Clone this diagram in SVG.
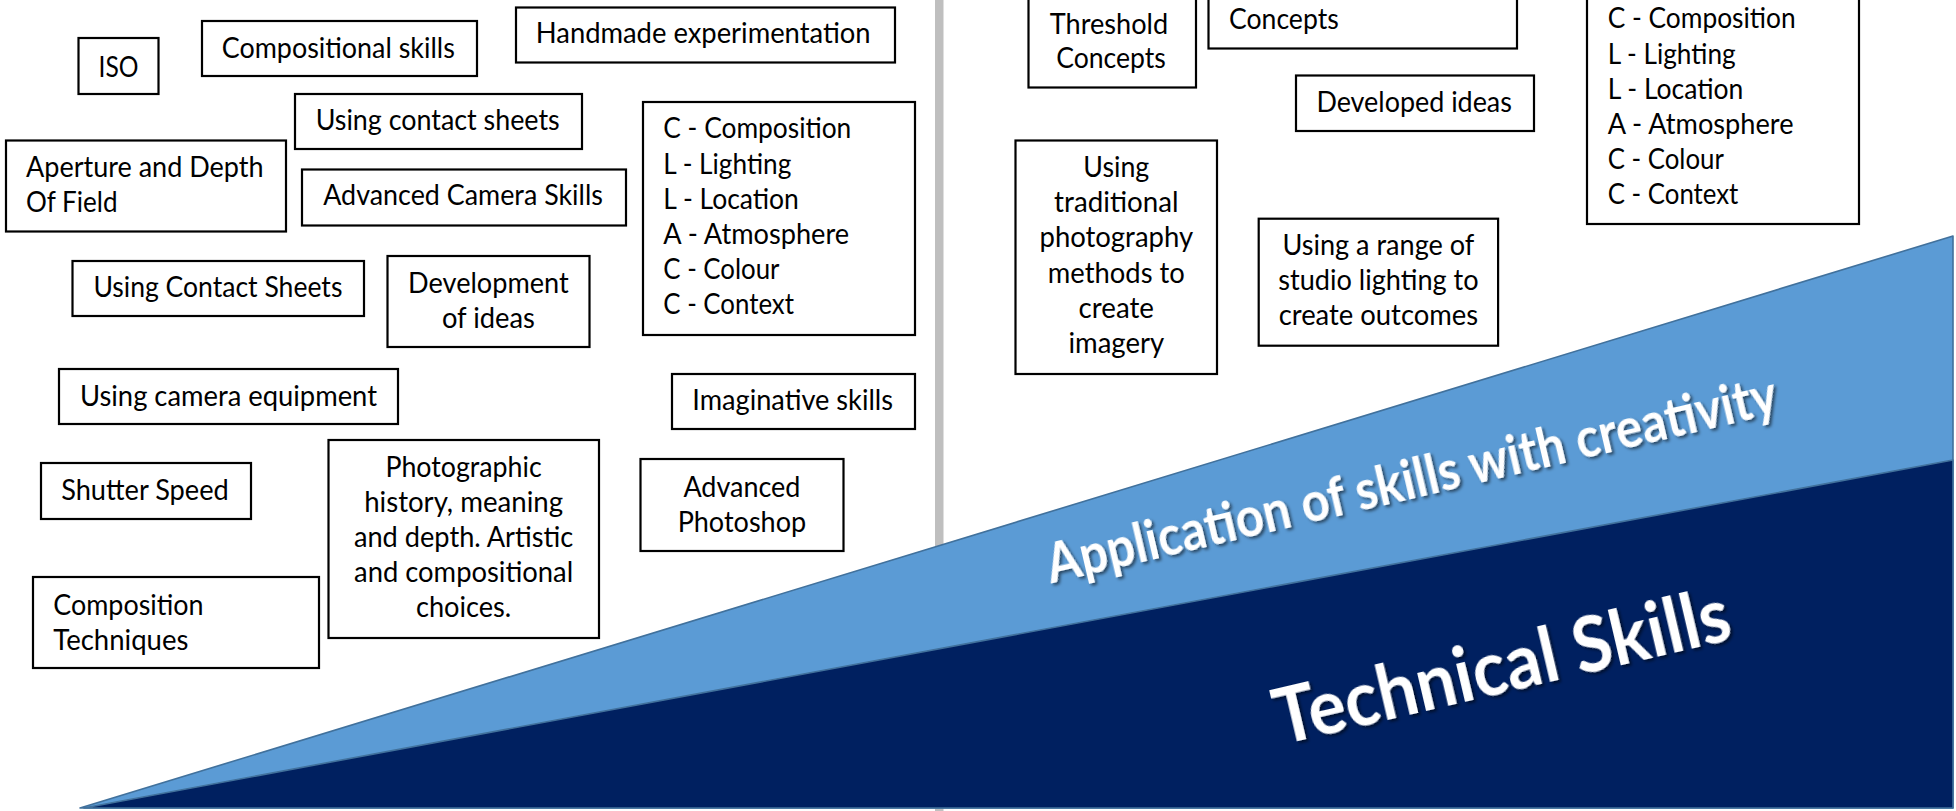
<svg xmlns="http://www.w3.org/2000/svg" width="1956" height="811" viewBox="0 0 1956 811">
<style>
.box{fill:#fff;stroke:#000;stroke-width:2.2}
.t{font-family:Lato,"Liberation Sans",sans-serif;font-size:28.5px;fill:#000}
.m{text-anchor:middle}
.w{font-family:Lato,"Liberation Sans",sans-serif;font-weight:bold;fill:#fff}
.band{stroke:#41719C;stroke-width:1.6;stroke-linejoin:round}
</style>
<defs>
<filter id="sh" x="-10%" y="-30%" width="120%" height="160%">
<feDropShadow dx="2" dy="2.5" stdDeviation="1.6" flood-color="#000" flood-opacity="0.55"/>
</filter>
</defs>
<rect id="divider" x="935" y="0" width="8.5" height="811" fill="#bfbfbf"/>

<g id="iso"><rect class="box" x="78.5" y="38" width="80" height="56"/><text class="t m" x="118.5" y="76.7" textLength="40" lengthAdjust="spacingAndGlyphs">ISO</text></g>
<g id="compositional"><rect class="box" x="202" y="21" width="275" height="55"/><text class="t" x="221.8" y="58.3" textLength="233" lengthAdjust="spacingAndGlyphs">Compositional skills</text></g>
<g id="handmade"><rect class="box" x="516" y="7.5" width="379" height="55"/><text class="t" x="535.8" y="43.3" textLength="334.8" lengthAdjust="spacingAndGlyphs">Handmade experimentation</text></g>
<g id="contact1"><rect class="box" x="295" y="94" width="287" height="55"/><text class="t" x="315.7" y="130" textLength="244" lengthAdjust="spacingAndGlyphs">Using contact sheets</text></g>
<g id="aperture"><rect class="box" x="6" y="140.5" width="280" height="91"/><text class="t" x="26" y="176.7" textLength="237.6" lengthAdjust="spacingAndGlyphs">Aperture and Depth</text><text class="t" x="26" y="211.7" textLength="91.5" lengthAdjust="spacingAndGlyphs">Of Field</text></g>
<g id="advcamera"><rect class="box" x="302" y="169.5" width="324" height="56"/><text class="t" x="323.2" y="205" textLength="279.7" lengthAdjust="spacingAndGlyphs">Advanced Camera Skills</text></g>
<g id="clacc-left"><rect class="box" x="643" y="102" width="272" height="233"/>
<text class="t" x="663.3" y="138.3" textLength="188" lengthAdjust="spacingAndGlyphs">C - Composition</text>
<text class="t" x="663.3" y="173.5" textLength="128" lengthAdjust="spacingAndGlyphs">L - Lighting</text>
<text class="t" x="663.3" y="208.7" textLength="135.6" lengthAdjust="spacingAndGlyphs">L - Location</text>
<text class="t" x="663.3" y="243.9" textLength="185.8" lengthAdjust="spacingAndGlyphs">A - Atmosphere</text>
<text class="t" x="663.3" y="279.1" textLength="116.2" lengthAdjust="spacingAndGlyphs">C - Colour</text>
<text class="t" x="663.3" y="314.3" textLength="130.7" lengthAdjust="spacingAndGlyphs">C - Context</text></g>
<g id="contact2"><rect class="box" x="72.5" y="261" width="291.5" height="55"/><text class="t" x="93.4" y="296.7" textLength="249" lengthAdjust="spacingAndGlyphs">Using Contact Sheets</text></g>
<g id="development"><rect class="box" x="387.5" y="256" width="202" height="91"/><text class="t m" x="488.4" y="293.3" textLength="160.6" lengthAdjust="spacingAndGlyphs">Development</text><text class="t m" x="488.4" y="328.3" textLength="92.9" lengthAdjust="spacingAndGlyphs">of ideas</text></g>
<g id="cameraequip"><rect class="box" x="59" y="369" width="339" height="55"/><text class="t" x="80" y="406" textLength="297" lengthAdjust="spacingAndGlyphs">Using camera equipment</text></g>
<g id="imaginative"><rect class="box" x="672" y="374" width="243" height="55"/><text class="t" x="692.3" y="410" textLength="200.7" lengthAdjust="spacingAndGlyphs">Imaginative skills</text></g>
<g id="shutter"><rect class="box" x="41" y="463" width="210" height="56"/><text class="t" x="61.2" y="500" textLength="167.6" lengthAdjust="spacingAndGlyphs">Shutter Speed</text></g>
<g id="photographic"><rect class="box" x="328.5" y="440" width="270.5" height="198"/>
<text class="t m" x="463.6" y="477.3" textLength="156.3" lengthAdjust="spacingAndGlyphs">Photographic</text>
<text class="t m" x="463.6" y="512.2" textLength="198.9" lengthAdjust="spacingAndGlyphs">history, meaning</text>
<text class="t m" x="463.6" y="547" textLength="219.3" lengthAdjust="spacingAndGlyphs">and depth. Artistic</text>
<text class="t m" x="463.6" y="581.9" textLength="219" lengthAdjust="spacingAndGlyphs">and compositional</text>
<text class="t m" x="463.6" y="616.7" textLength="95.4" lengthAdjust="spacingAndGlyphs">choices.</text></g>
<g id="photoshop"><rect class="box" x="640.5" y="459" width="203" height="92"/><text class="t m" x="741.9" y="496.7" textLength="117" lengthAdjust="spacingAndGlyphs">Advanced</text><text class="t m" x="741.9" y="531.7" textLength="128.5" lengthAdjust="spacingAndGlyphs">Photoshop</text></g>
<g id="comptech"><rect class="box" x="33" y="577" width="286" height="91"/><text class="t" x="53.3" y="615" textLength="150.3" lengthAdjust="spacingAndGlyphs">Composition</text><text class="t" x="53.3" y="649.7" textLength="135.1" lengthAdjust="spacingAndGlyphs">Techniques</text></g>

<g id="threshold"><rect class="box" x="1028.5" y="-10" width="167.5" height="97.5"/><text class="t m" x="1109" y="34.3" textLength="118.4" lengthAdjust="spacingAndGlyphs">Threshold</text><text class="t m" x="1111" y="68.3" textLength="109.7" lengthAdjust="spacingAndGlyphs">Concepts</text></g>
<g id="concepts"><rect class="box" x="1208.5" y="-10" width="308.5" height="58.5"/><text class="t" x="1229" y="28.5" textLength="109.7" lengthAdjust="spacingAndGlyphs">Concepts</text></g>
<g id="developed"><rect class="box" x="1296" y="75.5" width="238" height="55.5"/><text class="t" x="1316.4" y="111.7" textLength="195.5" lengthAdjust="spacingAndGlyphs">Developed ideas</text></g>
<g id="traditional"><rect class="box" x="1015.5" y="140.5" width="201.5" height="233.5"/>
<text class="t m" x="1116.3" y="176.9" textLength="65.9" lengthAdjust="spacingAndGlyphs">Using</text>
<text class="t m" x="1116.3" y="212.1" textLength="124.4" lengthAdjust="spacingAndGlyphs">traditional</text>
<text class="t m" x="1116.3" y="247.3" textLength="153.6" lengthAdjust="spacingAndGlyphs">photography</text>
<text class="t m" x="1116.3" y="282.5" textLength="136.9" lengthAdjust="spacingAndGlyphs">methods to</text>
<text class="t m" x="1116.3" y="317.7" textLength="75.4" lengthAdjust="spacingAndGlyphs">create</text>
<text class="t m" x="1116.3" y="352.9" textLength="95.7" lengthAdjust="spacingAndGlyphs">imagery</text></g>
<g id="studio"><rect class="box" x="1258.7" y="218.7" width="239.4" height="127"/>
<text class="t m" x="1378.4" y="255" textLength="191.8" lengthAdjust="spacingAndGlyphs">Using a range of</text>
<text class="t m" x="1378.4" y="290" textLength="200.3" lengthAdjust="spacingAndGlyphs">studio lighting to</text>
<text class="t m" x="1378.4" y="325" textLength="199.5" lengthAdjust="spacingAndGlyphs">create outcomes</text></g>
<g id="clacc-right"><rect class="box" x="1587" y="-10" width="272" height="234"/>
<text class="t" x="1607.7" y="28.3" textLength="188" lengthAdjust="spacingAndGlyphs">C - Composition</text>
<text class="t" x="1607.7" y="63.5" textLength="128" lengthAdjust="spacingAndGlyphs">L - Lighting</text>
<text class="t" x="1607.7" y="98.6" textLength="135.6" lengthAdjust="spacingAndGlyphs">L - Location</text>
<text class="t" x="1607.7" y="133.8" textLength="185.8" lengthAdjust="spacingAndGlyphs">A - Atmosphere</text>
<text class="t" x="1607.7" y="168.9" textLength="116.2" lengthAdjust="spacingAndGlyphs">C - Colour</text>
<text class="t" x="1607.7" y="204.1" textLength="130.7" lengthAdjust="spacingAndGlyphs">C - Context</text></g>

<g id="wedge">
<polygon class="band" points="80,808 1953,236 1953,808" fill="#5B9BD5"/>
<polygon class="band" points="84,808 1953,460 1953,808" fill="#002060"/>
<g transform="translate(1051,583.5) rotate(-13.2)"><text class="w" x="0" y="0" font-size="56" textLength="749" lengthAdjust="spacingAndGlyphs" filter="url(#sh)">Application of skills with creativity</text></g>
<g transform="translate(1281,745) rotate(-13.2)"><text class="w" x="0" y="0" font-size="76" textLength="466" lengthAdjust="spacingAndGlyphs" filter="url(#sh)">Technical Skills</text></g>
</g>
<g id="connectors"/>
</svg>
